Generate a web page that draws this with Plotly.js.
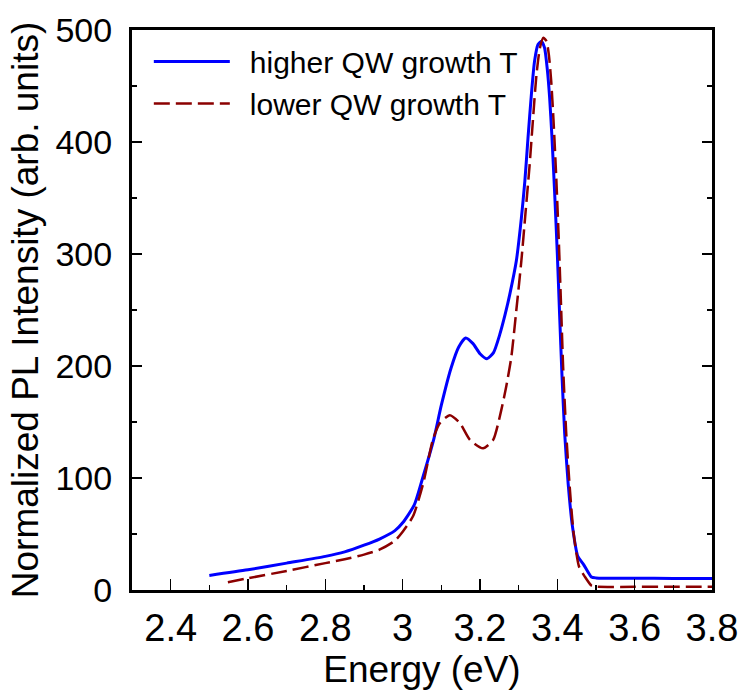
<!DOCTYPE html>
<html>
<head>
<meta charset="utf-8">
<script src="https://cdn.plot.ly/plotly-3.0.1.min.js"></script>
<style>html,body{margin:0;padding:0;background:#fff;}</style>
</head>
<body>
<div id="chart" style="width:741px;height:693px;"></div>
<script>
// Series: higher QW growth temperature
var higherName = "higher QW growth T";
var higherE = [2.50, 2.60, 2.70, 2.80, 2.85, 2.90, 2.94, 2.98, 3.00, 3.03, 3.05, 3.08, 3.10, 3.125, 3.145, 3.163, 3.182, 3.20, 3.218, 3.235, 3.251, 3.265, 3.277, 3.294, 3.307, 3.316, 3.324, 3.333, 3.341, 3.350, 3.359, 3.367, 3.374, 3.380, 3.386, 3.393, 3.400, 3.406, 3.412, 3.419, 3.428, 3.439, 3.453, 3.468, 3.488, 3.50, 3.60, 3.70, 3.80];
var higherI = [13, 18, 24, 30, 34, 40, 45.5, 53, 60, 76, 98, 134, 165, 198, 217, 225, 220, 211, 206.5, 212, 228, 246, 264, 294, 332, 365, 403, 443, 472, 487, 490, 484, 465, 440, 405, 355, 300, 245, 192, 140, 95, 57, 30, 22.7, 11.7, 10.8, 10.5, 10.3, 10.2];

// Series: lower QW growth temperature
var lowerName = "lower QW growth T";
var lowerE = [2.548, 2.60, 2.70, 2.80, 2.85, 2.90, 2.94, 2.98, 3.00, 3.027, 3.053, 3.078, 3.096, 3.122, 3.148, 3.174, 3.208, 3.234, 3.255, 3.268, 3.281, 3.294, 3.307, 3.318, 3.328, 3.337, 3.346, 3.355, 3.364, 3.372, 3.378, 3.384, 3.390, 3.397, 3.404, 3.41, 3.415, 3.423, 3.432, 3.442, 3.456, 3.471, 3.488, 3.50, 3.60, 3.70, 3.80];
var lowerI = [7, 10.5, 17, 24, 27.5, 31.6, 36, 44, 52, 66, 95, 134, 149, 156, 149, 134, 126.5, 134, 160.6, 182, 208, 250, 294, 338, 378, 420, 460, 484, 493, 490, 478, 455, 420, 370, 310, 250, 199, 140, 92, 51, 21, 12, 4, 3, 2.8, 2.8, 2.8];

// Tick labels
var xTickVals = [2.4, 2.6, 2.8, 3.0, 3.2, 3.4, 3.6, 3.8];
var xTickText = ["2.4", "2.6", "2.8", "3", "3.2", "3.4", "3.6", "3.8"];
var yTickVals = [0, 100, 200, 300, 400, 500];
var yTickText = ["0", "100", "200", "300", "400", "500"];

var xTitle = "Energy (eV)";
var yTitle = "Normalized PL Intensity (arb. units)";

var FONT = "Arial, 'Liberation Sans', sans-serif";
var GAP = "\u2002";

var traces = [
  {x: higherE, y: higherI, name: GAP + higherName, type: "scatter", mode: "lines",
   line: {color: "#0000ff", width: 3, shape: "spline", smoothing: 0.6}},
  {x: lowerE, y: lowerI, name: GAP + lowerName, type: "scatter", mode: "lines",
   line: {color: "#8b0000", width: 2.5, dash: "16px,6px", shape: "spline", smoothing: 0.6}}
];

var layout = {
  width: 741, height: 693,
  margin: {l: 132, r: 29, t: 30, b: 103, pad: 0},
  paper_bgcolor: "#fff", plot_bgcolor: "#fff",
  font: {family: FONT, color: "#000", size: 30},
  showlegend: true,
  legend: {x: 0.029, y: 0.99, xanchor: "left", yanchor: "top",
    bgcolor: "rgba(0,0,0,0)", borderwidth: 0, itemwidth: 76,
    font: {family: FONT, size: 30, color: "#000"}, tracegroupgap: 0},
  xaxis: {
    range: [2.3, 3.8], tickmode: "array", tickvals: xTickVals, ticktext: xTickText,
    ticks: "inside", ticklen: 11, tickwidth: 1.5, tickcolor: "#000",
    showline: true, linewidth: 3, linecolor: "#000", mirror: true,
    showgrid: false, zeroline: false,
    tickfont: {family: FONT, size: 38, color: "#000"},
    ticklabelstandoff: 2,
    minor: {tickmode: "array", tickvals: [2.5, 2.7, 2.9, 3.1, 3.3, 3.5, 3.7], ticks: "inside", ticklen: 5, tickwidth: 1.5, tickcolor: "#000", showgrid: false},
    title: {text: xTitle, font: {family: FONT, size: 37, color: "#000"}, standoff: 6}
  },
  yaxis: {
    range: [0, 500], tickmode: "array", tickvals: yTickVals, ticktext: yTickText,
    ticks: "inside", ticklen: 10, tickwidth: 1.5, tickcolor: "#000",
    showline: true, linewidth: 3, linecolor: "#000", mirror: "ticks",
    showgrid: false, zeroline: false,
    tickfont: {family: FONT, size: 34, color: "#000"},
    ticklabelstandoff: 10,
    minor: {tickmode: "array", tickvals: [50, 150, 250, 350, 450], ticks: "inside", ticklen: 5, tickwidth: 1.5, tickcolor: "#000", showgrid: false},
    title: {text: yTitle, font: {family: FONT, size: 37, color: "#000"}, standoff: 6}
  }
};

Plotly.newPlot("chart", traces, layout, {displayModeBar: false, staticPlot: true});
</script>
</body>
</html>
